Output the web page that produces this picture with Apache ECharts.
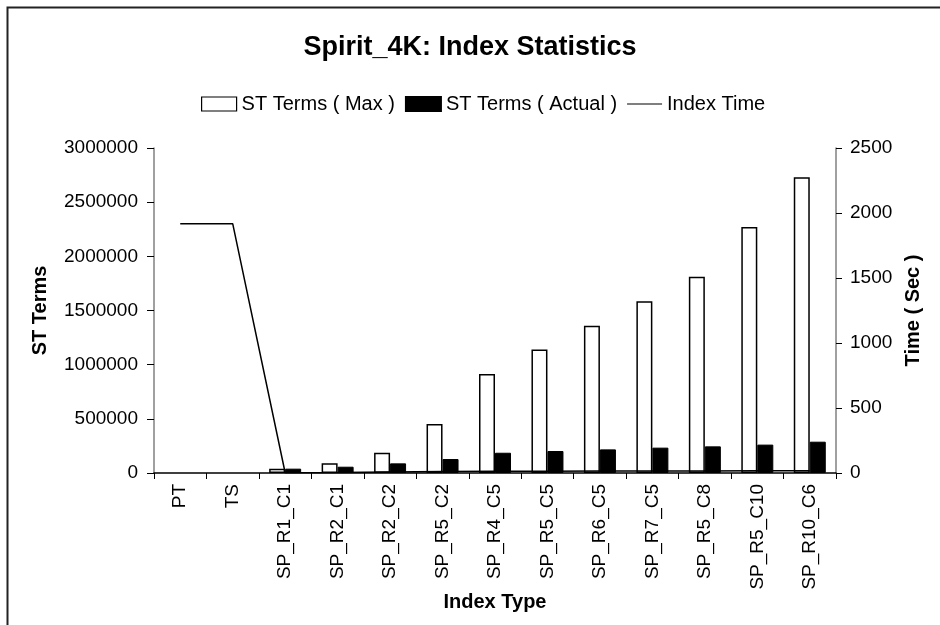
<!DOCTYPE html>
<html>
<head>
<meta charset="utf-8">
<script src="https://cdn.jsdelivr.net/npm/echarts@6/dist/echarts.min.js"></script>
<style>
html,body{margin:0;padding:0;background:#fff;}
#c{width:940px;height:625px;}
</style>
</head>
<body>
<div id="c"></div>
<script>
const categories = ['PT','TS','SP_R1_C1','SP_R2_C1','SP_R2_C2','SP_R5_C2','SP_R4_C5','SP_R5_C5','SP_R6_C5','SP_R7_C5','SP_R5_C8','SP_R5_C10','SP_R10_C6'];
const termsMax = [null,null,40000,90000,187000,452000,914000,1141000,1360000,1585000,1812000,2271000,2729000];
const termsActual = [null,null,40000,58000,89000,129000,187000,203000,218000,234000,246000,262000,289000];
const indexTime = [1918,1918,2,4,8,12,14,14,15,15,16,17,18];
const leftTicks = [0,500000,1000000,1500000,2000000,2500000,3000000];
const rightTicks = [0,500,1000,1500,2000,2500];

const FONT = 'Liberation Sans';
const chart = echarts.init(document.getElementById('c'), null, {renderer:'canvas'});
chart.setOption({
  animation:false,
  backgroundColor:'#fff',
  textStyle:{fontFamily:FONT,color:'#000'},
  graphic:[{type:'rect',shape:{x:7.5,y:7.5,width:1100,height:1100},style:{fill:'none',stroke:'#222',lineWidth:2},silent:true,z:100}],
  title:{text:'Spirit_4K: Index Statistics',left:'center',top:29,
    textStyle:{fontFamily:FONT,fontWeight:'bold',fontSize:27,color:'#000'}},
  legend:{top:89,left:196,itemGap:10,itemWidth:35,itemHeight:14,
    textStyle:{fontFamily:FONT,fontSize:20,color:'#000'},
    data:[
      {name:'ST Terms ( Max )',icon:'rect',itemStyle:{color:'#fff',borderColor:'#000',borderWidth:1.2}},
      {name:'ST Terms ( Actual )',icon:'rect',itemStyle:{color:'#000'}},
      {name:'Index Time',icon:'path://M0,0h40v1.4h-40z',itemStyle:{color:'#000'}}
    ]},
  grid:{left:154,right:104,top:148,bottom:152,containLabel:false},
  xAxis:{type:'category',data:categories,boundaryGap:true,
    name:'Index Type',nameLocation:'middle',nameGap:119,nameMoveOverlap:false,
    nameTextStyle:{fontFamily:FONT,fontWeight:'bold',fontSize:20,color:'#000',verticalAlign:'top'},
    axisLine:{lineStyle:{color:'#000',width:1.5}},
    axisTick:{show:true,interval:0,length:6,lineStyle:{color:'#000'}},
    axisLabel:{rotate:90,interval:0,fontSize:19,color:'#000',fontFamily:FONT,margin:11}},
  yAxis:[
    {type:'value',min:0,max:3000000,interval:500000,
     name:'ST Terms',nameLocation:'middle',nameGap:104,nameRotate:90,
     nameTextStyle:{fontFamily:FONT,fontWeight:'bold',fontSize:20,color:'#000'},
     axisLine:{show:true,lineStyle:{color:'#808080',width:1.5}},
     axisTick:{show:true,length:7,lineStyle:{color:'#000'}},
     splitLine:{show:false},
     axisLabel:{fontSize:19,color:'#000',fontFamily:FONT,margin:16,formatter:v=>String(v)}},
    {type:'value',min:0,max:2500,interval:500,position:'right',
     name:'Time ( Sec )',nameLocation:'middle',nameGap:67,nameRotate:90,
     nameTextStyle:{fontFamily:FONT,fontWeight:'bold',fontSize:20,color:'#000'},
     axisLine:{show:true,lineStyle:{color:'#808080',width:1.5}},
     axisTick:{show:true,length:6,lineStyle:{color:'#000'}},
     splitLine:{show:false},
     axisLabel:{fontSize:19,color:'#000',fontFamily:FONT,margin:14,formatter:v=>String(v)}}
  ],
  series:[
    {name:'ST Terms ( Max )',type:'bar',yAxisIndex:0,data:termsMax,barWidth:16,barGap:'0%',
     itemStyle:{color:'#fff',borderColor:'#000',borderWidth:1.5}},
    {name:'ST Terms ( Actual )',type:'bar',yAxisIndex:0,data:termsActual,barWidth:16,barGap:'0%',
     itemStyle:{color:'#000',borderColor:'#000',borderWidth:1}},
    {name:'Index Time',type:'line',yAxisIndex:1,data:indexTime,showSymbol:false,symbol:'none',
     lineStyle:{color:'#000',width:1.5},itemStyle:{color:'#000'},z:5}
  ]
});
</script>
</body>
</html>
